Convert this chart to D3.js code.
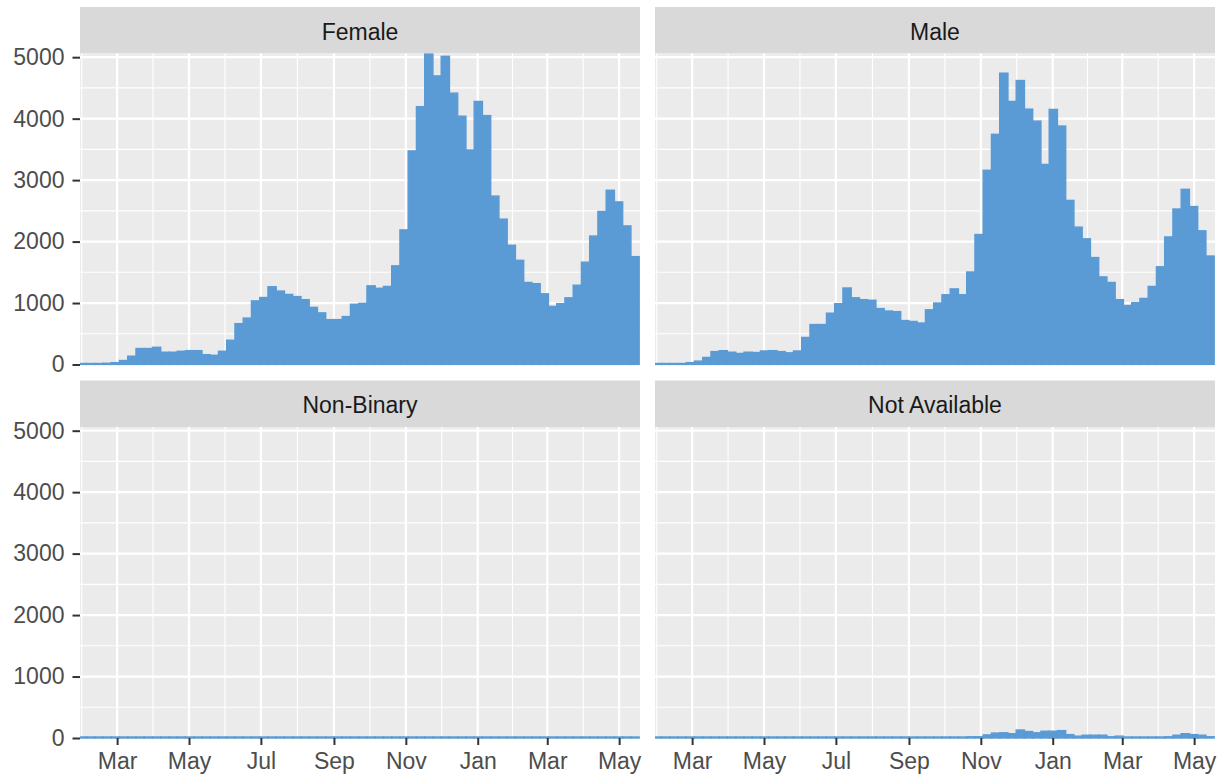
<!DOCTYPE html>
<html>
<head>
<meta charset="utf-8">
<script src="https://cdn.jsdelivr.net/npm/d3@7"></script>
<style>
  body { margin: 0; background: #fff; }
  svg { display: block; font-family: "Liberation Sans", Arial, sans-serif; }
</style>
</head>
<body>
<svg id="chart"></svg>
<script>
// weekly counts, first bin starts 2020-01-28
const firstBin = new Date(Date.UTC(2020, 0, 28));
const binDays = 7;

const female = [10,10,15,20,30,65,135,260,260,280,200,200,215,225,225,160,150,215,395,665,
  755,1035,1090,1265,1195,1140,1105,1055,930,840,730,730,780,980,995,1280,1240,1270,1605,2190,
  3475,4195,5060,4695,5015,4415,4040,3490,4280,4050,2740,2365,1940,1695,1335,1315,1150,945,990,1085,
  1290,1665,2090,2490,2835,2645,2255,1755];
const male = [10,10,10,15,30,55,115,210,225,200,180,200,195,220,225,210,190,220,440,650,
  650,835,990,1245,1085,1055,1045,910,870,860,715,700,675,890,1000,1135,1230,1135,1505,2115,
  3160,3745,4740,4280,4620,4155,3960,3255,4150,3880,2670,2235,2045,1740,1425,1335,1055,960,1005,1075,
  1270,1590,2075,2530,2850,2570,2175,1765];
const nonBinary = [0,0,0,0,0,0,0,0,0,0,0,0,0,0,0,0,0,0,0,0,
  0,0,0,0,0,0,0,0,0,0,0,0,0,0,0,0,0,0,0,0,
  1,1,1,1,1,1,1,0,1,1,0,0,0,0,0,0,0,0,0,0,
  0,0,0,0,0,0,0,0];
const notAvailable = [0,0,0,0,0,0,0,0,0,0,0,0,0,0,0,0,0,0,5,8,
  10,10,15,15,15,12,5,5,15,5,3,5,10,10,10,10,10,10,20,20,
  50,80,85,70,130,105,85,110,110,120,55,30,45,45,45,20,30,15,15,15,
  10,2,20,45,70,55,45,20];

const facets = ["Female", "Male", "Non-Binary", "Not Available"];
const facetValues = [female, male, nonBinary, notAvailable];

const majorMonths = ["2020-03-01","2020-05-01","2020-07-01","2020-09-01","2020-11-01","2021-01-01","2021-03-01","2021-05-01"];
const yMajor = [0, 1000, 2000, 3000, 4000, 5000];
const yMinor = [500, 1500, 2500, 3500, 4500];

const width = 1221, height = 775;
const svg = d3.select("#chart").attr("width", width).attr("height", height);

const colX = [80, 655];
const panelW = 560;
const stripTop = [7, 380.5];
const stripH = 46.5;
const panelH = 311;

const x = d3.scaleUtc()
  .domain([new Date(Date.UTC(2020, 0, 29, 12)), new Date(Date.UTC(2021, 4, 18, 17))])
  .range([0, panelW]);
const y = d3.scaleLinear()
  .domain([0, d3.max(facetValues.flat())])
  .range([panelH, 0]);

const majorDates = majorMonths.map(d => new Date(d + "T00:00:00Z"));
const minorDates = [d3.utcDay.offset(majorDates[0], -30)];
for (let i = 0; i < majorDates.length - 1; i++) {
  minorDates.push(new Date((+majorDates[i] + +majorDates[i + 1]) / 2));
}

const bins = d3.range(female.length).map(i => d3.utcDay.offset(firstBin, binDays * i));

facets.forEach((name, fi) => {
  const col = fi % 2, row = Math.floor(fi / 2);
  const px = colX[col];
  const sy = stripTop[row];
  const py = sy + stripH;

  // strip
  svg.append("rect").attr("x", px).attr("y", sy).attr("width", panelW).attr("height", stripH)
    .attr("fill", "#D9D9D9");
  svg.append("text").attr("x", px + panelW / 2).attr("y", sy + stripH / 2 + 1.5)
    .attr("text-anchor", "middle").attr("dominant-baseline", "central")
    .attr("font-size", "23px").attr("fill", "#1A1A1A").text(name);

  const g = svg.append("g").attr("transform", `translate(${px},${py})`);
  g.append("rect").attr("width", panelW).attr("height", panelH).attr("fill", "#EBEBEB");

  // grid
  g.selectAll(".ymin").data(yMinor).enter().append("line")
    .attr("x1", 0).attr("x2", panelW).attr("y1", d => y(d)).attr("y2", d => y(d))
    .attr("stroke", "#fff").attr("stroke-width", 1.1);
  g.selectAll(".xmin").data(minorDates).enter().append("line")
    .attr("y1", 0).attr("y2", panelH).attr("x1", d => x(d)).attr("x2", d => x(d))
    .attr("stroke", "#fff").attr("stroke-width", 1.1);
  g.selectAll(".ymaj").data(yMajor).enter().append("line")
    .attr("x1", 0).attr("x2", panelW).attr("y1", d => y(d)).attr("y2", d => y(d))
    .attr("stroke", "#fff").attr("stroke-width", 2.2);
  g.selectAll(".xmaj").data(majorDates).enter().append("line")
    .attr("y1", 0).attr("y2", panelH).attr("x1", d => x(d)).attr("x2", d => x(d))
    .attr("stroke", "#fff").attr("stroke-width", 2.2);

  // bars (zero counts still leave a thin outline at the baseline)
  const clipId = "clip" + fi;
  g.append("clipPath").attr("id", clipId).append("rect")
    .attr("x", 0).attr("y", 0).attr("width", panelW).attr("height", panelH + 1);
  g.append("g").attr("clip-path", `url(#${clipId})`)
    .selectAll("rect").data(facetValues[fi]).enter().append("rect")
    .attr("x", (d, i) => x(bins[i]))
    .attr("width", (d, i) => x(d3.utcDay.offset(bins[i], binDays)) - x(bins[i]))
    .attr("y", d => Math.min(y(d), panelH - 1))
    .attr("height", d => Math.max(panelH - y(d), 1))
    .attr("fill", "#5B9BD5")
    .attr("stroke", "#5B9BD5")
    .attr("stroke-width", 1.4);

  // y axis on left column
  if (col === 0) {
    const ya = g.append("g").call(d3.axisLeft(y).tickValues(yMajor).tickFormat(d3.format("d")).tickSize(7.5).tickPadding(8));
    ya.select(".domain").remove();
    ya.selectAll("line").attr("stroke", "#333333").attr("stroke-width", 2);
    ya.selectAll("text").attr("font-size", "23px").attr("fill", "#4D4D4D")
      .attr("font-family", "Liberation Sans, Arial, sans-serif");
  }
  // x axis on bottom row
  if (row === 1) {
    const xa = g.append("g").attr("transform", `translate(0,${panelH})`)
      .call(d3.axisBottom(x).tickValues(majorDates).tickFormat(d3.utcFormat("%b")).tickSize(7).tickPadding(8));
    xa.select(".domain").remove();
    xa.selectAll("line").attr("stroke", "#333333").attr("stroke-width", 2);
    xa.selectAll("text").attr("font-size", "23px").attr("fill", "#4D4D4D")
      .attr("font-family", "Liberation Sans, Arial, sans-serif");
  }
});
</script>
</body>
</html>
